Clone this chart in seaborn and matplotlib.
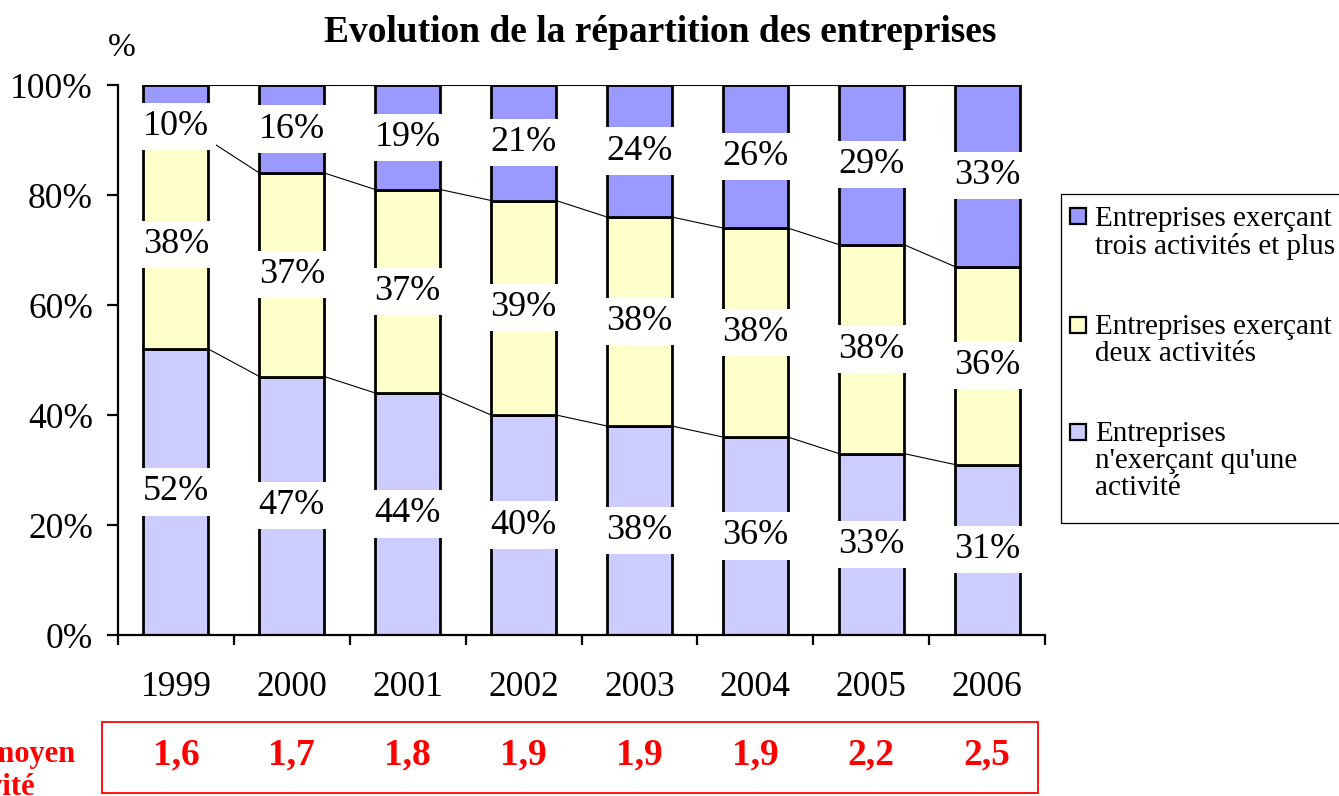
import matplotlib
matplotlib.use('Agg')
import matplotlib.pyplot as plt
from matplotlib.patches import Rectangle
import seaborn as sns
import numpy as np

#  data
years = ['1999', '2000', '2001', '2002', '2003', '2004', '2005', '2006']
une_activite = [52, 47, 44, 40, 38, 36, 33, 31]
deux_activites = [38, 37, 37, 39, 38, 38, 38, 36]
trois_plus = [10, 16, 19, 21, 24, 26, 29, 33]
nb_moyen = [1.6, 1.7, 1.8, 1.9, 1.9, 1.9, 2.2, 2.5]

legend_labels = [
    ['Entreprises exerçant', 'trois activités et plus'],
    ['Entreprises exerçant', 'deux activités'],
    ['Entreprises', "n'exerçant qu'une", 'activité'],
]

c_une = '#CCCCFF'
c_deux = '#FFFFCC'
c_trois = '#9999FF'

sns.set_style('white')
plt.rcParams['font.family'] = ['Liberation Serif', 'DejaVu Serif']
plt.rcParams['text.color'] = 'black'
plt.rcParams['xtick.color'] = 'black'
plt.rcParams['ytick.color'] = 'black'
plt.rcParams['axes.labelcolor'] = 'black'

W, H = 1339, 796
def fx(px):
    return px / W
def fy(py):
    return 1 - py / H

fig = plt.figure(figsize=(W / 100, H / 100), dpi=100)
ax = fig.add_axes([fx(118), fy(635), fx(1045) - fx(118), fy(85) - fy(635)])

bw = 0.56
une = np.array(une_activite)
deux = np.array(deux_activites)
trois = np.array(trois_plus)

bar_kw = dict(width=bw, edgecolor='black', linewidth=2.0, errorbar=None,
              saturation=1, ax=ax)
sns.barplot(x=years, y=une, color=c_une, **bar_kw)
sns.barplot(x=years, y=deux, bottom=une, color=c_deux, **bar_kw)
sns.barplot(x=years, y=trois, bottom=une + deux, color=c_trois, **bar_kw)

# series lines between bars
for level in [une, une + deux, une + deux + trois]:
    for i in range(len(years) - 1):
        ax.plot([i + bw / 2, i + 1 - bw / 2], [level[i], level[i + 1]],
                color='black', lw=0.8, zorder=3)

# value labels in white boxes
box = dict(boxstyle='square,pad=0.2', fc='white', ec='none')
for i in range(len(years)):
    bottoms = [0, une[i], une[i] + deux[i]]
    for b, h in zip(bottoms, [une[i], deux[i], trois[i]]):
        yc = min(b + h / 2, 92.5)  # keep label inside the plot area
        ax.text(i, yc, f'{h}%', ha='center', va='center', fontsize=26,
                bbox=box, zorder=6)

ax.set_xlim(-0.5, len(years) - 0.5)
ax.set_ylim(0, 100)
ax.set_yticks(range(0, 101, 20))
ax.set_yticklabels([f'{v}%' for v in range(0, 101, 20)])
ax.set_xticks(range(len(years)))
ax.set_xticklabels(years)
ax.set_xticks(np.arange(-0.5, len(years)), minor=True)
ax.set_xlabel('')
ax.set_ylabel('')
sns.despine(ax=ax)
for s in ['left', 'bottom']:
    ax.spines[s].set_color('black')
    ax.spines[s].set_linewidth(1.6)
ax.tick_params(axis='y', direction='out', length=8, width=1.6, pad=10,
               labelsize=25.5, colors='black', left=True)
ax.tick_params(axis='x', which='major', length=0, pad=26, labelsize=25.5,
               colors='black')
ax.tick_params(axis='x', which='minor', direction='out', length=7,
               width=1.6, bottom=True)

# titles
fig.text(fx(660), fy(33), 'Evolution de la répartition des entreprises',
         ha='center', va='center', fontsize=27, fontweight='bold')
fig.text(fx(122), fy(48), '%', ha='center', va='center', fontsize=24)

# average number of activities
for i, v in enumerate(nb_moyen):
    ax.text(i, (635 - 755) / 550, f'{v:.1f}'.replace('.', ','),
            transform=ax.get_xaxis_transform(), ha='center', va='center',
            color='red', fontsize=27, fontweight='bold')
fig.add_artist(Rectangle((fx(102), fy(793)), fx(1038) - fx(102),
                         fy(722) - fy(793), transform=fig.transFigure,
                         fill=False, ec='red', lw=1.3))
fig.text(fx(-25), fy(771), "Nombre moyen\nd'activité", ha='center',
         va='center', multialignment='center', color='red', fontsize=22,
         fontweight='bold', linespacing=1.15)

# legend
fig.add_artist(Rectangle((fx(1061), fy(523)), fx(1350) - fx(1061),
                         fy(194) - fy(523), transform=fig.transFigure,
                         fill=False, ec='black', lw=0.9))
legend_colors = [c_trois, c_deux, c_une]
square_tops = [208, 317, 424]
baselines = [[226, 254], [334, 361], [441, 468, 495]]
for col, top, lines, bls in zip(legend_colors, square_tops,
                                legend_labels, baselines):
    fig.add_artist(Rectangle((fx(1070), fy(top + 16)), fx(16), 16 / H,
                             transform=fig.transFigure, fc=col,
                             ec='black', lw=1.6))
    for line, bl in zip(lines, bls):
        fig.text(fx(1095), fy(bl), line, ha='left', va='baseline',
                 fontsize=21)

fig.savefig('out.png', dpi=100)
